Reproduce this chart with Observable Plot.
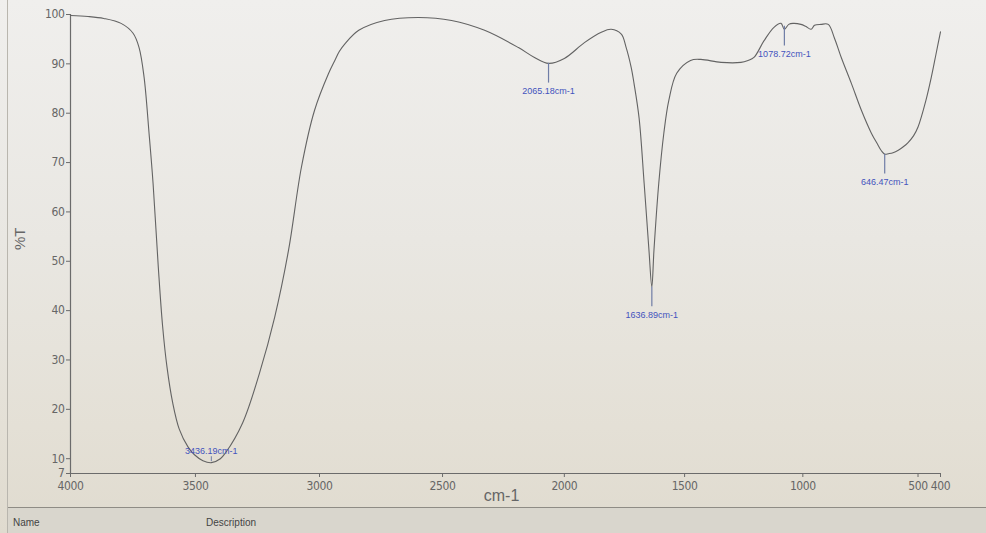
<!DOCTYPE html>
<html>
<head>
<meta charset="utf-8">
<script src="https://cdn.jsdelivr.net/npm/d3@7"></script>
<script src="https://cdn.jsdelivr.net/npm/@observablehq/plot@0.6"></script>
<style>
html,body{margin:0;padding:0;}
body{width:986px;height:533px;overflow:hidden;position:relative;
  background:linear-gradient(#f0efed 0%,#e9e7e2 45%,#e4e0d6 80%,#e0dbcf 100%);
  font-family:"Liberation Sans",sans-serif;}
#chart svg{display:block;background:transparent;}
#chart g[aria-label="x-axis tick label"] text,
#chart g[aria-label="y-axis tick label"] text{font-family:"DejaVu Sans",sans-serif;font-stretch:condensed;letter-spacing:-0.4px;}
#edge{position:absolute;left:7px;top:0;width:1px;height:533px;background:#b9b6ae;}
#strip{position:absolute;left:8px;top:507px;width:978px;height:26px;border-top:1px solid #8f8c85;background:#d9d6cd;color:#444;font-size:10px;font-family:"Liberation Sans",sans-serif;}
#strip span{position:absolute;top:9px;}
</style>
</head>
<body>
<div id="edge"></div>
<div id="chart"></div>
<div id="strip"><span style="left:5px">Name</span><span style="left:198px">Description</span></div>
<script>
// Spectrum: wavenumber (cm-1) and transmittance (%T)
const wavenumber = [4000, 3930, 3867, 3798, 3750, 3726, 3706, 3686, 3670, 3649, 3632, 3614, 3592, 3565, 3530, 3504, 3470, 3436, 3400, 3379, 3310, 3242, 3181, 3125, 3073, 3020, 2963, 2939, 2920, 2898, 2841, 2736, 2598, 2463, 2328, 2189, 2123, 2065, 2000, 1917, 1847, 1806, 1764, 1745, 1723, 1711, 1690, 1669, 1649, 1637, 1628, 1608, 1587, 1566, 1533, 1475, 1432, 1347, 1263, 1233, 1208, 1165, 1123, 1093, 1079, 1060, 1042, 1008, 988, 965, 950, 922, 891, 865, 835, 791, 748, 704, 680, 661, 646, 630, 610, 587, 565, 545, 520, 500, 465, 440, 420, 400];
const transmittance = [99.8, 99.6, 99.2, 98.2, 96.2, 93.3, 87.3, 75.9, 65.8, 48.8, 37.0, 28.5, 21.5, 16.0, 12.4, 10.8, 9.6, 9.2, 10.0, 11.2, 17.3, 27.4, 38.7, 52.3, 69.1, 80.6, 88.1, 90.6, 92.5, 94.0, 96.8, 98.8, 99.4, 98.8, 96.8, 93.3, 91.3, 90.1, 91.1, 94.3, 96.4, 97.0, 96.0, 93.5, 89.3, 86.0, 79.0, 65.8, 52.3, 44.8, 52.3, 65.8, 75.9, 82.6, 88.1, 90.7, 90.9, 90.3, 90.3, 90.7, 91.3, 94.7, 97.4, 98.2, 97.0, 98.0, 98.2, 98.0, 97.6, 97.0, 97.8, 98.0, 98.0, 95.3, 91.3, 86.0, 80.6, 75.9, 73.9, 72.4, 71.7, 71.8, 72.0, 72.5, 73.2, 74.0, 75.4, 77.2, 82.6, 87.5, 92.0, 96.5];

// Labelled peaks
const peakWn = [3436.19, 2065.18, 1636.89, 1078.72, 646.47];
const peakT = [9.2, 90.1, 44.8, 97.6, 71.7];
const peakLabels = ["3436.19cm-1", "2065.18cm-1", "1636.89cm-1", "1078.72cm-1", "646.47cm-1"];

// Axis ticks
const xTicks = [4000, 3500, 3000, 2500, 2000, 1500, 1000, 500, 400];
const yTicks = [7, 10, 20, 30, 40, 50, 60, 70, 80, 90, 100];
const xLabel = "cm-1";
const yLabel = "%T";

const spectrum = wavenumber.map((w, i) => ({wn: w, t: transmittance[i]}));
const peaks = peakWn.map((w, i) => ({wn: w, t: peakT[i], label: peakLabels[i], low: peakT[i] < 15}));
const below = peaks.filter(d => !d.low);
const above = peaks.filter(d => d.low);

const axisColor = "#6b6b6b";

const chart = Plot.plot({
  width: 986,
  height: 507,
  marginLeft: 70,
  marginRight: 46,
  marginTop: 14,
  marginBottom: 34,
  style: {background: "transparent", fontFamily: "'Liberation Sans',sans-serif", color: "#666"},
  // slight power scale reproduces the uneven tick spacing of the photographed screen
  x: {type: "pow", exponent: 1.05, domain: [4000, 400]},
  y: {domain: [7, 100]},
  marks: [
    Plot.axisX({ticks: xTicks, tickFormat: "d", tickSize: 4, tickPadding: 4, fontSize: 12, label: null, stroke: axisColor, fill: "#666"}),
    Plot.axisY({ticks: yTicks, tickFormat: "d", tickSize: 4, tickPadding: 2, fontSize: 12, label: null, stroke: axisColor, fill: "#666"}),
    Plot.ruleX([4000], {stroke: axisColor, strokeWidth: 1.2}),
    Plot.ruleY([7], {stroke: axisColor, strokeWidth: 1.2}),
    Plot.text([xLabel], {frameAnchor: "bottom", dx: -4, dy: 27, fontSize: 16, fill: "#666"}),
    Plot.text([yLabel], {frameAnchor: "left", dx: -50, dy: 6, rotate: -90, fontSize: 15, fill: "#666"}),
    Plot.line(spectrum, {x: "wn", y: "t", stroke: "#636363", strokeWidth: 1.1, curve: "catmull-rom"}),
    // annotations below peaks
    Plot.ruleX(below, {x: "wn", y1: "t", y2: d => d.t - 4, stroke: "#6f7da6", strokeWidth: 1.2}),
    Plot.text(below, {x: "wn", y: d => d.t - 4, text: "label", dy: 8, fontSize: 9, fill: "#4353bd"}),
    // annotation for the deep minimum (placed above)
    Plot.ruleX(above, {x: "wn", y1: d => d.t + 0.2, y2: d => d.t + 1.2, stroke: "#6f7da6"}),
    Plot.text(above, {x: "wn", y: d => d.t + 2.4, text: "label", fontSize: 9, fill: "#4353bd"})
  ]
});
document.getElementById("chart").appendChild(chart);
</script>
</body>
</html>
